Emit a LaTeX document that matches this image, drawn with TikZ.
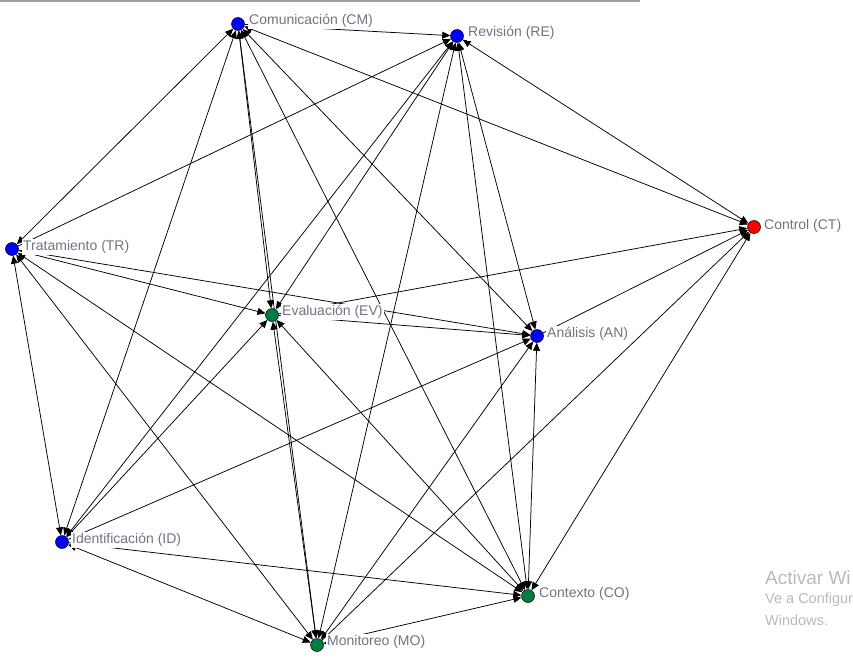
\documentclass[tikz,border=0pt]{standalone}
\usepackage{fontspec}
\setmainfont{Liberation Sans}
\usetikzlibrary{arrows.meta,backgrounds}
\definecolor{lbl}{RGB}{112,116,130}
\definecolor{nblue}{RGB}{0,0,255}
\definecolor{nred}{RGB}{255,0,0}
\definecolor{ngreen}{RGB}{0,125,65}
\definecolor{wm}{RGB}{185,185,185}
\begin{document}
\begin{tikzpicture}[x=1pt,y=-1pt,
  vtx/.style={circle,draw=black,line width=0.5pt,minimum size=13pt,inner sep=0pt},
  lab/.style={anchor=west,text=lbl,fill=white,inner sep=1pt,font=\fontsize{14}{16}\selectfont},
  tip/.tip={Triangle[length=8pt,width=7pt]},
  edge/.style={line width=0.75pt,-tip},
  bi/.style={line width=0.75pt,tip-tip},
  wmtext/.style={anchor=west,text=wm,inner sep=0pt}]
\useasboundingbox (0,0) rectangle (853,658);
\fill[gray!75] (0,0) rectangle (640,2);

% vertices
\node[vtx,fill=nblue]  (cm) at (238,24)  {};
\node[vtx,fill=nblue]  (re) at (457,36)  {};
\node[vtx,fill=nred]   (ct) at (754,227) {};
\node[vtx,fill=nblue]  (tr) at (12,249)  {};
\node[vtx,fill=ngreen] (ev) at (272,315) {};
\node[vtx,fill=nblue]  (an) at (537,336) {};
\node[vtx,fill=nblue]  (id) at (62,542)  {};
\node[vtx,fill=ngreen] (co) at (528,596) {};
\node[vtx,fill=ngreen] (mo) at (317,645) {};

% labels
\node[lab] (cml) at (248,21)  {Comunicación (CM)};
\node[lab] (rel) at (467,33)  {Revisión (RE)};
\node[lab] (ctl) at (763,226) {Control (CT)};
\node[lab] (trl) at (22,247)  {Tratamiento (TR)};
\node[lab] (evl) at (281,312) {Evaluación (EV)};
\node[lab] (anl) at (546,334) {Análisis (AN)};
\node[lab] (idl) at (71,540)  {Identificación (ID)};
\node[lab] (col) at (538,594) {Contexto (CO)};
\node[lab] (mol) at (326,642) {Monitoreo (MO)};

% watermark
\node[wmtext,font=\fontsize{19}{21}\selectfont] (w1) at (765,578) {Activar Wi};
\node[wmtext,font=\fontsize{14.5}{16}\selectfont] (w2) at (765,600) {Ve a Configur};
\node[wmtext,font=\fontsize{14.5}{16}\selectfont] (w3) at (765,620) {Windows.};

\begin{scope}[on background layer]
  % reciprocal ties
  \foreach \a/\b in {cm/ct,cm/tr,cm/id,cm/ev,cm/mo,cm/an,cm/co,
                     re/ct,re/ev,re/an,re/id,re/co,re/mo,
                     ct/co,tr/id,tr/co,tr/mo,ev/id,ev/co,ev/mo,
                     an/co,an/mo,id/mo,co/mo}
    \draw[bi] (\a) -- (\b);
  % one-way ties
  \foreach \a/\b in {cm/re,tr/re,ev/ct,an/ct,mo/ct,tr/ev,tr/an,ev/an,id/an,id/co}
    \draw[edge] (\a) -- (\b);
\end{scope}
\end{tikzpicture}
\end{document}
